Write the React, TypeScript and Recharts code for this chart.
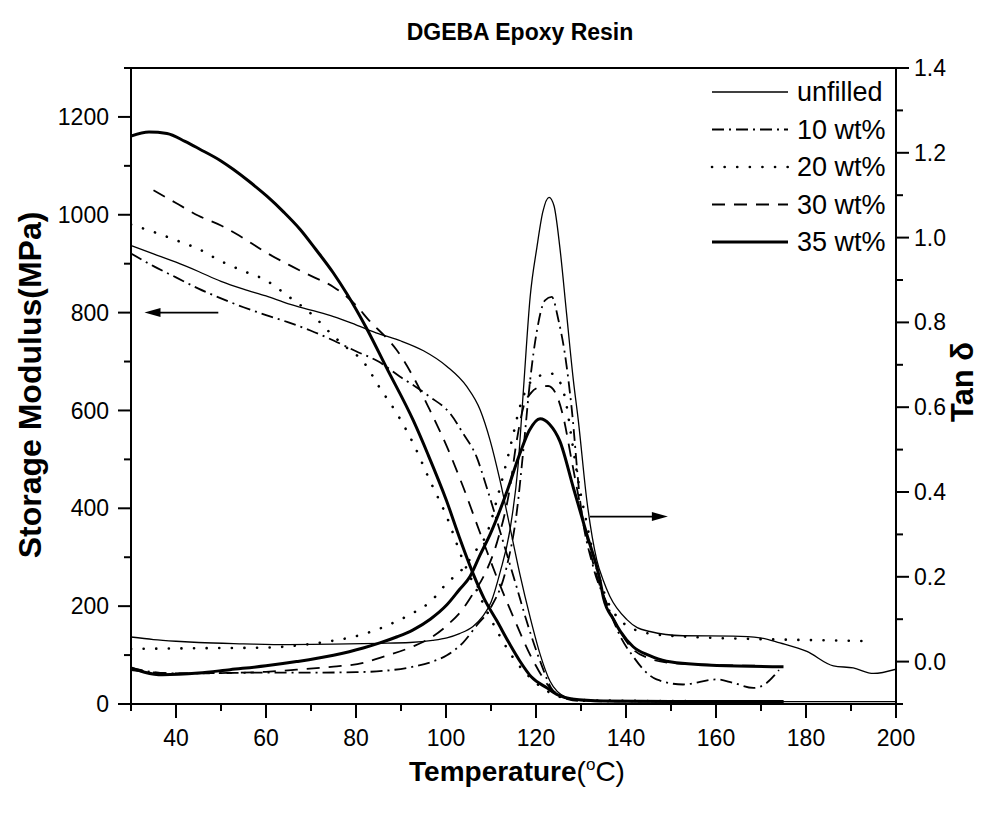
import React from "react";
import {
  Customized,
  Line,
  LineChart,
  ReferenceLine,
  XAxis,
  YAxis,
} from "recharts";

// [temperature °C, storage modulus MPa]
const modUnfilled = [
  [30, 937], [35, 920], [40, 903], [45, 884], [50, 864], [55, 848], [60, 834],
  [65, 818], [70, 805], [75, 792], [80, 775], [85, 757], [90, 742], [95, 722],
  [100.2, 690], [104.6, 649], [107.6, 601], [109.8, 539], [112, 457],
  [114.2, 362], [116.4, 266], [118.7, 177], [120.9, 102], [123.1, 47],
  [126.8, 13], [130, 7], [140, 5], [160, 5], [180, 5], [200, 5],
];
const mod10 = [
  [30, 921], [35, 895], [40, 872], [45, 849], [50, 829], [55, 811], [60, 795],
  [65, 780], [70, 763], [75, 743], [80, 721], [85, 700], [89.8, 669],
  [93, 650], [96.4, 628], [100.9, 594], [103.8, 553], [106.8, 505], [109, 444],
  [111.3, 375], [113.5, 307], [115.7, 239], [117.9, 170], [120.9, 88],
  [123.8, 27], [127, 10], [130, 6], [150, 5], [175, 5],
];
const mod20 = [
  [30, 980], [35, 965], [40, 948], [45, 930], [50, 905], [55, 885], [60, 866],
  [65, 833], [70, 798], [75, 752], [78, 728], [81.6, 700], [85.3, 646],
  [89, 595], [92.7, 533], [96.4, 457], [100.2, 382], [103.8, 293],
  [107.6, 218], [111.3, 150], [114.9, 95], [118.7, 54], [123.8, 20],
  [128, 10], [135, 7], [150, 6], [175, 5],
];
const mod30 = [
  [35, 1050], [40, 1024], [45, 998], [50, 978], [55, 952], [60, 923],
  [65, 898], [70, 875], [74.9, 853], [80, 815], [83.1, 782], [86.8, 748],
  [89, 724], [92.7, 669], [96.4, 601], [100.2, 526], [103.8, 444],
  [107.6, 349], [111.3, 259], [115, 177], [119.4, 88], [123.8, 27],
  [128, 10], [135, 6], [150, 5], [175, 5],
];
const mod35 = [
  [30, 1161], [34, 1169], [38, 1166], [42, 1150], [45.3, 1134], [50, 1110],
  [52.7, 1093], [56, 1070], [60.2, 1038], [64, 1005], [67.6, 970], [71, 930],
  [74.9, 882], [78, 838], [82.4, 767], [86.8, 687], [92.7, 580], [96, 510],
  [100.1, 416], [103, 340], [106, 267], [108.5, 215], [111.3, 170],
  [114, 125], [116.4, 88], [119, 55], [122.4, 33], [125, 18], [128, 10],
  [135, 6], [150, 5], [175, 5],
];

// [temperature °C, tan delta]
const tanUnfilled = [
  [30, 0.058], [35, 0.052], [40, 0.048], [45, 0.045], [55, 0.042],
  [65, 0.04], [75, 0.041], [85, 0.043], [92, 0.045], [97, 0.05],
  [100.2, 0.056], [103, 0.066], [106, 0.083], [108.2, 0.107], [110, 0.14],
  [112, 0.21], [114.2, 0.31], [116, 0.46], [117.2, 0.64], [118.7, 0.86],
  [120.2, 0.977], [121.5, 1.06], [122.9, 1.095], [124, 1.075],
  [125.3, 0.977], [126.8, 0.82], [128.3, 0.664], [129.4, 0.569],
  [131.3, 0.38], [133.5, 0.24], [135, 0.19], [136.4, 0.154], [140.2, 0.099],
  [142.5, 0.08], [145.3, 0.071], [152.7, 0.061], [163.8, 0.06],
  [169.8, 0.056], [174.2, 0.044], [180.2, 0.024], [186.1, -0.01],
  [190.5, -0.015], [195, -0.028], [200, -0.018],
];
const tan10 = [
  [30, -0.015], [35, -0.025], [40, -0.028], [50, -0.027], [60, -0.026],
  [70, -0.026], [80, -0.025], [86, -0.022], [92.7, -0.012], [97, 0.0],
  [100.2, 0.015], [103.8, 0.045], [106.8, 0.085], [109.8, 0.125],
  [113.5, 0.224], [115.7, 0.35], [117.2, 0.5], [118.7, 0.664], [120.2, 0.78],
  [122, 0.852], [123.5, 0.86], [125, 0.805], [126.4, 0.727], [127.9, 0.6],
  [129.8, 0.38], [132.7, 0.224], [135.7, 0.138], [138.7, 0.06],
  [141.6, 0.012], [143.9, -0.019], [146.8, -0.042], [152.7, -0.054],
  [160.2, -0.042], [163.8, -0.05], [168.3, -0.062], [171.3, -0.05],
  [173.1, -0.031], [174, -0.02],
];
const tan20 = [
  [30, 0.03], [40, 0.031], [50, 0.032], [60, 0.033], [67, 0.038],
  [74.2, 0.048], [80, 0.06], [85.3, 0.078], [89, 0.095], [92.7, 0.115],
  [96.4, 0.14], [100.2, 0.185], [103.8, 0.22], [106.5, 0.26], [109, 0.3],
  [112, 0.41], [114.6, 0.52], [116.4, 0.6], [118.5, 0.655], [121, 0.675],
  [123.1, 0.68], [125, 0.665], [126.5, 0.62], [128, 0.52], [129.5, 0.42],
  [131, 0.34], [133.5, 0.22], [136, 0.14], [139, 0.095], [142, 0.075],
  [146, 0.065], [155, 0.058], [170, 0.053], [185, 0.05], [195, 0.048],
];
const tan30 = [
  [30, -0.02], [40, -0.028], [50, -0.027], [60, -0.024], [66.8, -0.019],
  [75, -0.012], [81.6, -0.003], [85.3, 0.009], [92.7, 0.036], [96.4, 0.055],
  [100.2, 0.085], [103.8, 0.125], [106, 0.16], [108.3, 0.2], [111.3, 0.28],
  [114.2, 0.41], [115.7, 0.52], [117.2, 0.6], [119, 0.635], [121, 0.648],
  [122.7, 0.65], [124.5, 0.63], [126, 0.58], [128, 0.47], [130, 0.36],
  [132.5, 0.24], [135, 0.155], [138, 0.085], [141, 0.035], [145, 0.008],
  [150, -0.003], [160, -0.008], [170, -0.01],
];
const tan35 = [
  [30, -0.015], [33, -0.025], [37, -0.031], [45, -0.027], [52, -0.019],
  [60, -0.01], [66.8, 0.0], [75, 0.015], [81.6, 0.032], [85.3, 0.044],
  [89, 0.058], [92.7, 0.075], [96.5, 0.1], [100.2, 0.134], [103, 0.17],
  [105.3, 0.2], [107.5, 0.25], [109.8, 0.3], [113.5, 0.4], [116.4, 0.49],
  [118.5, 0.545], [120.9, 0.573], [123, 0.56], [125.3, 0.52], [128.3, 0.41],
  [131.3, 0.3], [134.2, 0.193], [135, 0.15], [137.2, 0.1], [138.7, 0.072],
  [141.6, 0.035], [145, 0.015], [149, 0.001], [160.2, -0.009], [175, -0.012],
];

const xTicks = [30, 40, 50, 60, 70, 80, 90, 100, 110, 120, 130, 140, 150, 160, 170, 180, 190, 200];
const leftTicks = [0, 100, 200, 300, 400, 500, 600, 700, 800, 900, 1000, 1100, 1200, 1300];
const rightTicks = [-0.1, 0, 0.1, 0.2, 0.3, 0.4, 0.5, 0.6, 0.7, 0.8, 0.9, 1.0, 1.1, 1.2, 1.3, 1.4];

const FONT = '"Liberation Sans", Arial, Helvetica, sans-serif';

const toPoints = (arr: number[][]) => arr.map(([t, v]) => ({ t, v }));

const SERIES = [
  { name: "unfilled", mod: modUnfilled, tan: tanUnfilled, width: 1.3, dash: undefined, cap: "butt" },
  { name: "10 wt%", mod: mod10, tan: tan10, width: 1.8, dash: "12 5 2 5", cap: "butt" },
  { name: "20 wt%", mod: mod20, tan: tan20, width: 2.6, dash: "0.1 12.5", cap: "round" },
  { name: "30 wt%", mod: mod30, tan: tan30, width: 1.8, dash: "13 9", cap: "butt" },
  { name: "35 wt%", mod: mod35, tan: tan35, width: 3, dash: undefined, cap: "butt" },
];

const XTick = ({ x, y, payload }: any) => {
  const major = payload.value % 20 === 0;
  return (
    <g>
      <line x1={x} x2={x} y1={y} y2={y + (major ? 14 : 7)} stroke="#000" strokeWidth={2} />
      {major && (
        <text x={x} y={y + 34} dy="0.35em" textAnchor="middle" fontSize={23} fontFamily={FONT} fill="#000">
          {payload.value}
        </text>
      )}
    </g>
  );
};

const LeftTick = ({ x, y, payload }: any) => {
  const major = payload.value % 200 === 0;
  return (
    <g>
      <line x1={x} x2={x - (major ? 13 : 7)} y1={y} y2={y} stroke="#000" strokeWidth={2} />
      {major && (
        <text x={x - 22} y={y} dy="0.35em" textAnchor="end" fontSize={23} fontFamily={FONT} fill="#000">
          {payload.value}
        </text>
      )}
    </g>
  );
};

const RightTick = ({ x, y, payload }: any) => {
  const k = Math.round(payload.value * 10);
  const major = k >= 0 && k % 2 === 0;
  return (
    <g>
      <line x1={x} x2={x + (major ? 13 : 7)} y1={y} y2={y} stroke="#000" strokeWidth={2} />
      {major && (
        <text x={x + 18} y={y} dy="0.35em" textAnchor="start" fontSize={23} fontFamily={FONT} fill="#000">
          {(k / 10).toFixed(1)}
        </text>
      )}
    </g>
  );
};

const Arrow = (props: any) => {
  const { x1, y1, x2, y2 } = props;
  const dir = x2 > x1 ? 1 : -1;
  return (
    <g>
      <line x1={x1} y1={y1} x2={x2 - dir * 10} y2={y2} stroke="#000" strokeWidth={1.8} />
      <polygon
        points={`${x2},${y2} ${x2 - dir * 16},${y2 - 4.5} ${x2 - dir * 16},${y2 + 4.5}`}
        fill="#000"
      />
    </g>
  );
};

const Texts = () => (
  <g fontFamily={FONT} fill="#000">
    <text x={512} y={32} textAnchor="middle" fontSize={23} fontWeight="bold">
      DGEBA Epoxy Resin
    </text>
    <text x={509} y={773} textAnchor="middle" fontSize={28}>
      <tspan fontWeight="bold">Temperature</tspan>
      <tspan>(</tspan>
      <tspan fontSize={17} dy={-11}>o</tspan>
      <tspan dy={11}>C)</tspan>
    </text>
    <text
      x={0}
      y={0}
      transform="translate(33 377) rotate(-90)"
      textAnchor="middle"
      fontSize={32}
      fontWeight="bold"
    >
      Storage Modulus(MPa)
    </text>
    <text
      x={0}
      y={0}
      transform="translate(965 374) rotate(-90)"
      textAnchor="middle"
      fontSize={31}
      fontWeight="bold"
    >
      Tan δ
    </text>
    {SERIES.map((s, i) => {
      const y = 84 + i * 37.5;
      return (
        <g key={s.name}>
          <line
            x1={704}
            x2={780}
            y1={y}
            y2={y}
            stroke="#000"
            strokeWidth={s.width}
            strokeDasharray={s.dash}
            strokeLinecap={s.cap as any}
          />
          <text x={789} y={y} dy="0.35em" fontSize={27}>
            {s.name}
          </text>
        </g>
      );
    })}
  </g>
);

export default function App() {
  return (
    <LineChart
      width={978}
      height={800}
      margin={{ top: 60, right: 0, bottom: 0, left: 0 }}
      style={{ background: "#fff" }}
    >
      <XAxis
        dataKey="t"
        type="number"
        domain={[30, 200]}
        ticks={xTicks}
        interval={0}
        height={104}
        tickSize={0}
        tickMargin={0}
        tickLine={false}
        tick={<XTick />}
        axisLine={{ stroke: "#000", strokeWidth: 2 }}
        allowDataOverflow
      />
      <YAxis
        yAxisId="left"
        orientation="left"
        type="number"
        domain={[0, 1300]}
        ticks={leftTicks}
        interval={0}
        width={123}
        tickSize={0}
        tickMargin={0}
        tickLine={false}
        tick={<LeftTick />}
        axisLine={{ stroke: "#000", strokeWidth: 2 }}
        allowDataOverflow
      />
      <YAxis
        yAxisId="right"
        orientation="right"
        type="number"
        domain={[-0.1, 1.4]}
        ticks={rightTicks}
        interval={0}
        width={90}
        tickSize={0}
        tickMargin={0}
        tickLine={false}
        tick={<RightTick />}
        axisLine={{ stroke: "#000", strokeWidth: 2 }}
        allowDataOverflow
      />
      <ReferenceLine yAxisId="left" y={1300} stroke="#000" strokeWidth={2} />
      {SERIES.map((s) => (
        <Line
          key={`mod-${s.name}`}
          yAxisId="left"
          data={toPoints(s.mod)}
          dataKey="v"
          type="monotone"
          stroke="#000"
          strokeWidth={s.width}
          strokeDasharray={s.dash}
          strokeLinecap={s.cap as any}
          dot={false}
          activeDot={false}
          isAnimationActive={false}
        />
      ))}
      {SERIES.map((s) => (
        <Line
          key={`tan-${s.name}`}
          yAxisId="right"
          data={toPoints(s.tan)}
          dataKey="v"
          type="monotone"
          stroke="#000"
          strokeWidth={s.width}
          strokeDasharray={s.dash}
          strokeLinecap={s.cap as any}
          dot={false}
          activeDot={false}
          isAnimationActive={false}
        />
      ))}
      <ReferenceLine
        yAxisId="left"
        segment={[{ x: 49.4, y: 800 }, { x: 33.0, y: 800 }]}
        shape={Arrow}
      />
      <ReferenceLine
        yAxisId="right"
        segment={[{ x: 132, y: 0.342 }, { x: 149.3, y: 0.342 }]}
        shape={Arrow}
      />
      <Customized component={Texts} />
    </LineChart>
  );
}
